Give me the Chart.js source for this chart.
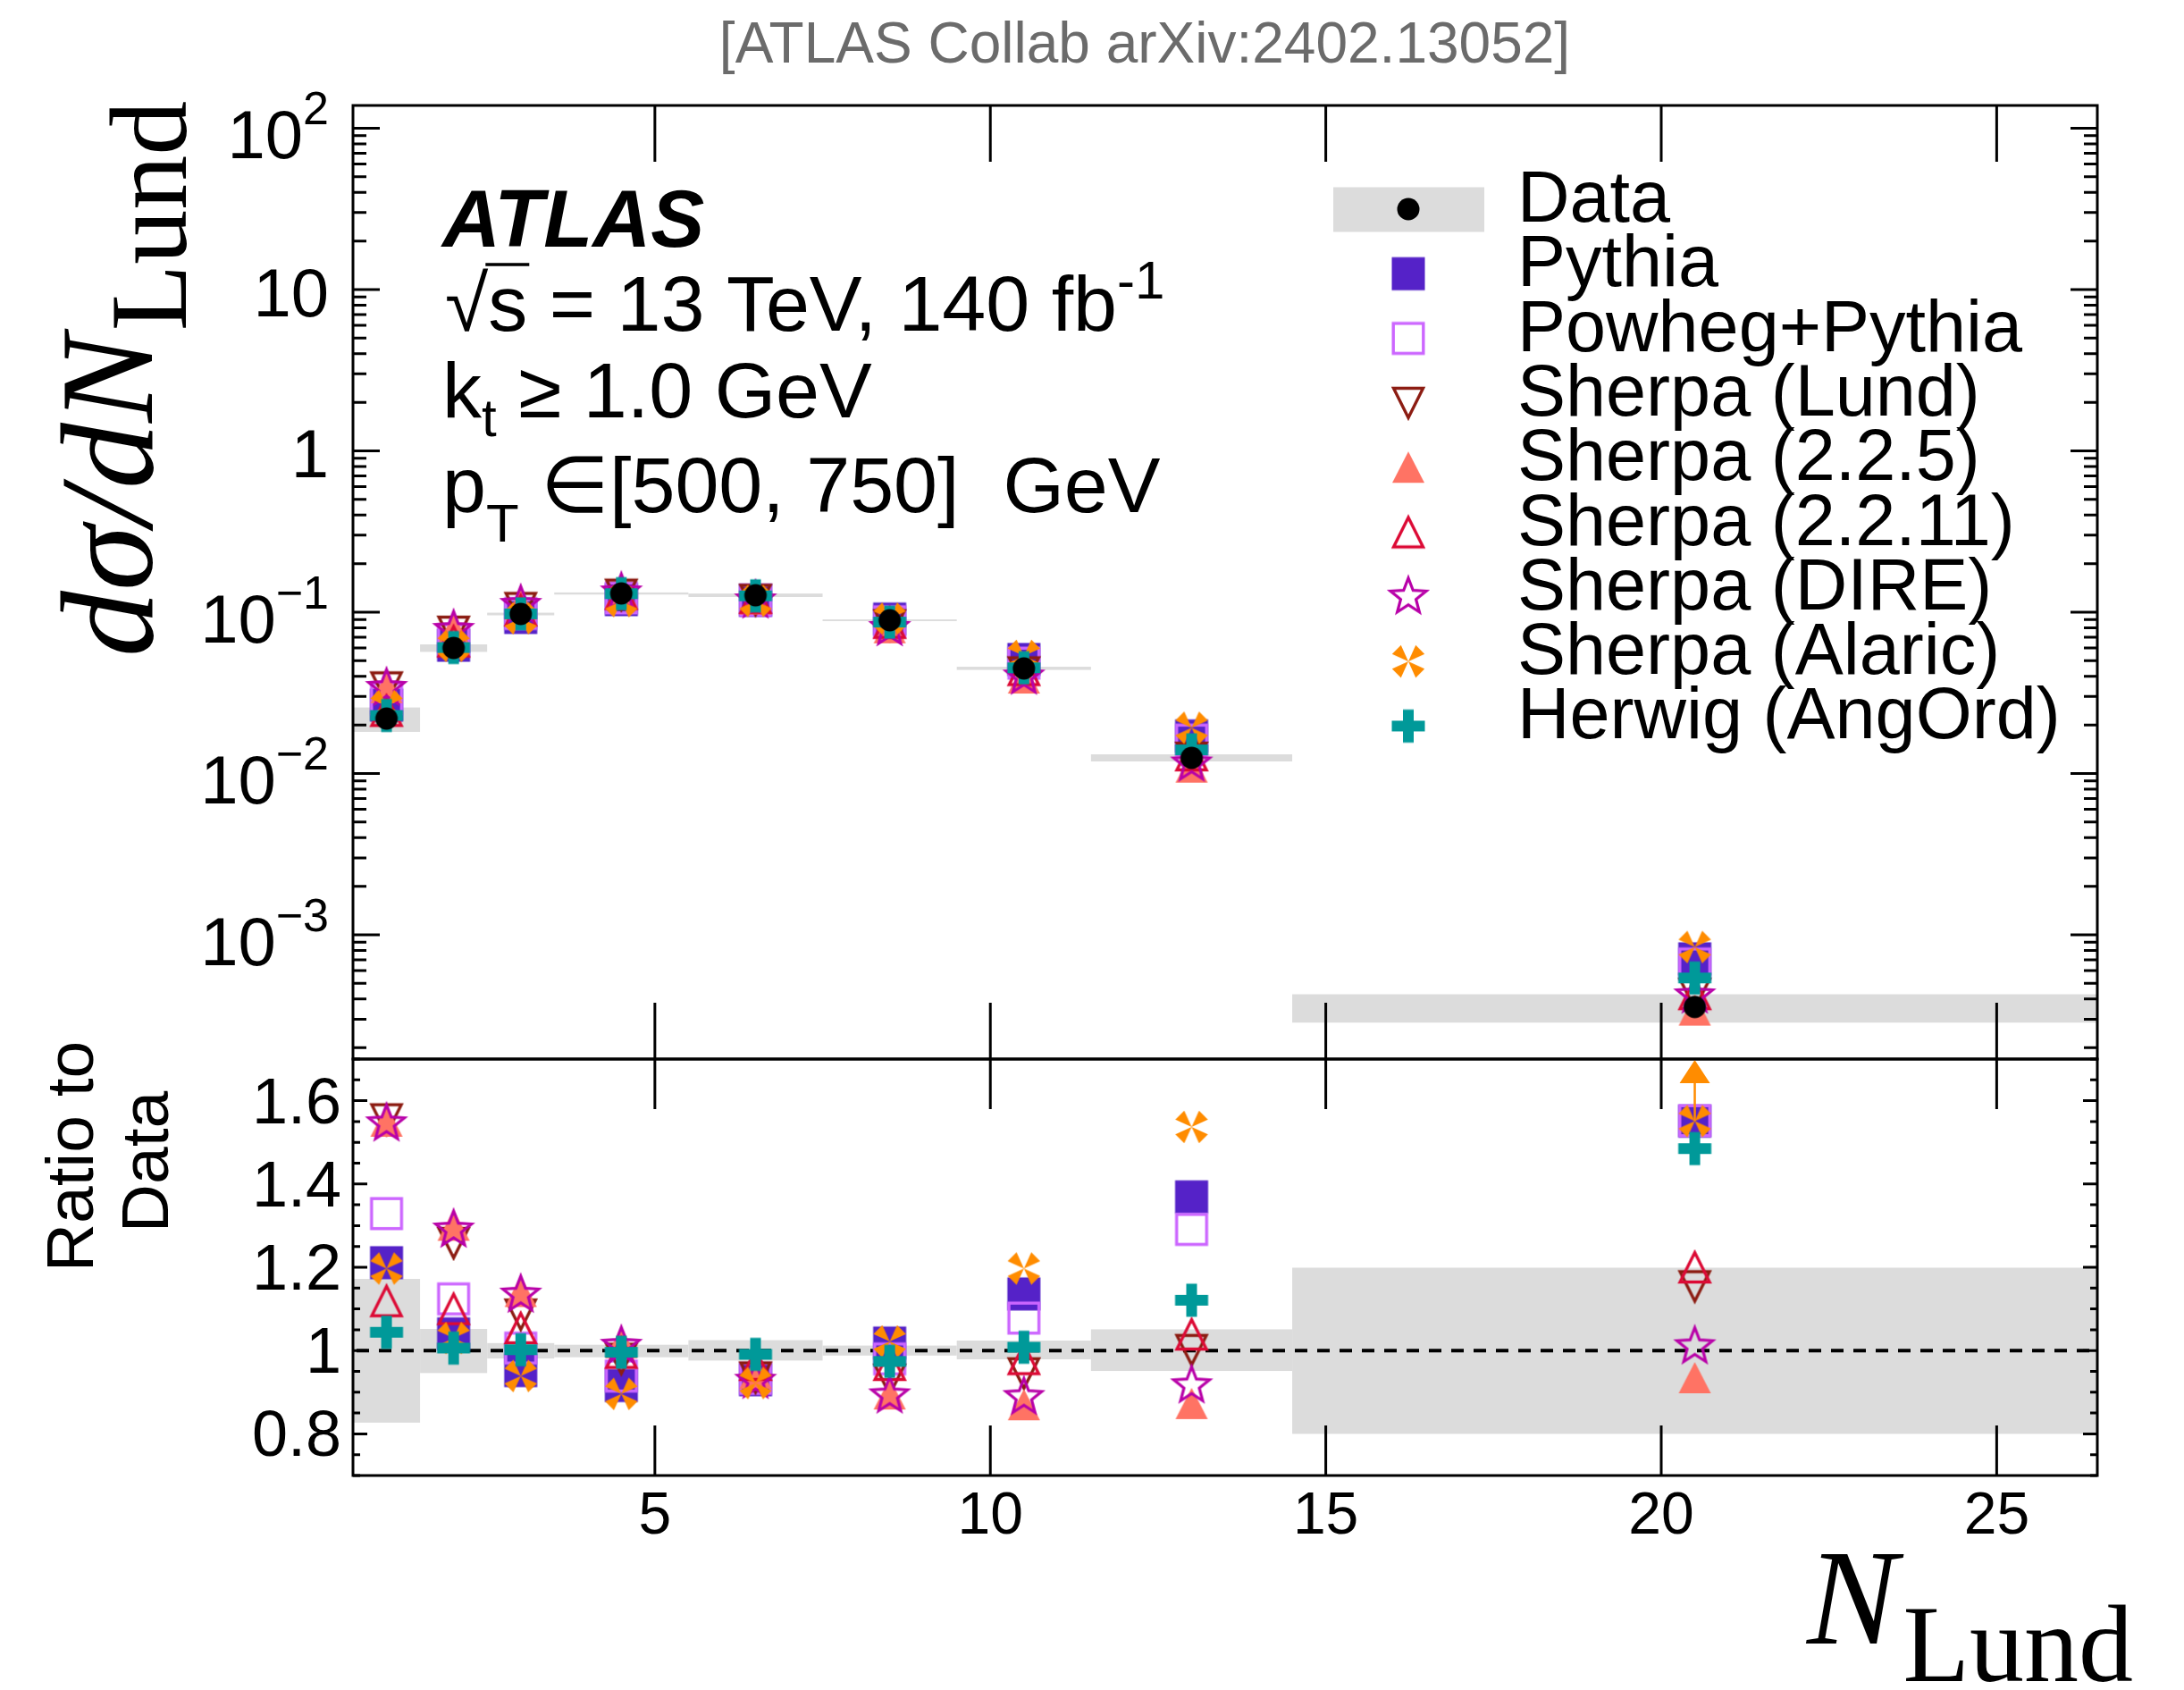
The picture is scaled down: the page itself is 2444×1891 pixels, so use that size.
<!DOCTYPE html>
<html>
<head>
<meta charset="utf-8">
<title>dsigma/dN_Lund</title>
<script src="https://cdn.jsdelivr.net/npm/chart.js@4.4.1/dist/chart.umd.min.js"></script>
<style>
  html, body { margin: 0; padding: 0; background: #fff; }
  #page { position: relative; width: 2444px; height: 1891px; overflow: hidden; background: #fff; }
  #page canvas { position: absolute; left: 0; }
</style>
</head>
<body>
<div id="page">
  <canvas id="mainPanel" width="2444" height="1192" style="top:0px"></canvas>
  <canvas id="ratioPanel" width="2444" height="791" style="top:1100px"></canvas>
</div>
<script>
// bins in N_Lund
const binEdges = [0.5, 1.5, 2.5, 3.5, 5.5, 7.5, 9.5, 11.5, 14.5, 26.5];
const nLund = [1, 2, 3, 4.5, 6.5, 8.5, 10.5, 13, 20.5];

// data (upper panel) and relative size of the grey uncertainty band
const dataXs = [0.0219, 0.0600, 0.0975, 0.1307, 0.1273, 0.0891, 0.0448, 0.0125, 0.000357];
const dataRelUp = [1.172, 1.052, 1.018, 1.014, 1.025, 1.012, 1.024, 1.051, 1.199];
const dataRelDown = [0.827, 0.946, 0.981, 0.984, 0.976, 0.988, 0.979, 0.951, 0.80];

// predictions, upper panel
const pythia = [0.0265, 0.0624, 0.0928, 0.1197, 0.1184, 0.0907, 0.0509, 0.0171, 0.00071];
const powheg = [0.0291, 0.0674, 0.0981, 0.1227, 0.1188, 0.0873, 0.0483, 0.0161, 0.00066];
const sherpaLund = [0.0341, 0.0755, 0.1059, 0.1281, 0.1190, 0.0829, 0.0423, 0.0125, 0.00043];
const sherpa225 = [0.0339, 0.0780, 0.1112, 0.1331, 0.1203, 0.0797, 0.0389, 0.0109, 0.00034];
const sherpa2211 = [0.0245, 0.0660, 0.1028, 0.1300, 0.1230, 0.0861, 0.0439, 0.0130, 0.00043];
const sherpaDire = [0.0338, 0.0774, 0.1106, 0.1321, 0.1180, 0.0795, 0.0398, 0.0115, 0.00042];
const sherpaAlaric = [0.0262, 0.0618, 0.0916, 0.1171, 0.1174, 0.0911, 0.0536, 0.0192, 0.00084];
const herwig = [0.0229, 0.0604, 0.0977, 0.1302, 0.1262, 0.0868, 0.0452, 0.0140, 0.00054];

// predictions, ratio panel
const pythiaRatio = [1.211, 1.04, 0.952, 0.916, 0.93, 1.018, 1.136, 1.369, 1.551];
const powhegRatio = [1.329, 1.124, 1.006, 0.939, 0.933, 0.98, 1.078, 1.291, 1.552];
const sherpaLundRatio = [1.555, 1.258, 1.086, 0.98, 0.935, 0.93, 0.945, 1.001, 1.154];
const sherpa225Ratio = [1.55, 1.30, 1.141, 1.018, 0.945, 0.895, 0.869, 0.872, 0.934];
const sherpa2211Ratio = [1.119, 1.10, 1.054, 0.995, 0.966, 0.966, 0.98, 1.039, 1.20];
const sherpaDireRatio = [1.545, 1.29, 1.134, 1.011, 0.927, 0.892, 0.888, 0.916, 1.01];
const sherpaAlaricRatio = [1.197, 1.03, 0.939, 0.896, 0.922, 1.022, 1.197, 1.537, 1.551];
const herwigRatio = [1.044, 1.006, 1.002, 0.996, 0.991, 0.974, 1.008, 1.121, 1.485];
// Alaric error bar running out of the ratio frame (drawn as an arrow)
const sherpaAlaricRatioUp = [null, null, null, null, null, null, null, null, 1.8];

// axes
const xTickVals = [5, 10, 15, 20, 25];
const mainTickVals = [1e-3, 1e-2, 1e-1, 1, 10, 100];
const mainTickText = [['10', '\u22123'], ['10', '\u22122'], ['10', '\u22121'], ['1', ''], ['10', ''], ['10', '2']];
const ratioTickVals = [0.8, 1, 1.2, 1.4, 1.6];
const ratioTickText = ['0.8', '1', '1.2', '1.4', '1.6'];

const legendText = ['Data', 'Pythia', 'Powheg+Pythia', 'Sherpa (Lund)', 'Sherpa (2.2.5)',
  'Sherpa (2.2.11)', 'Sherpa (DIRE)', 'Sherpa (Alaric)', 'Herwig (AngOrd)'];

const SANS = '"Liberation Sans", Arimo, Arial, Helvetica, sans-serif';
const SERIF = '"Liberation Serif", "Times New Roman", serif';
const BAND = '#dcdcdc';
const RATIO_TOP = 1100;

Chart.defaults.font.family = SANS;

// ROOT-like markers, drawn once on small canvases and used as point styles
function makeMarker(kind, color) {
  const S = 52, c = document.createElement('canvas');
  c.width = S; c.height = S;
  const g = c.getContext('2d'), m = S / 2;
  g.fillStyle = color; g.strokeStyle = color; g.lineWidth = 3.4; g.lineJoin = 'miter';
  const poly = (pts) => {
    g.beginPath();
    pts.forEach(([px, py], i) => i ? g.lineTo(m + px, m + py) : g.moveTo(m + px, m + py));
    g.closePath();
  };
  if (kind === 'dot') { g.beginPath(); g.arc(m, m, 12.5, 0, 2 * Math.PI); g.fill(); }
  else if (kind === 'square') { g.fillRect(m - 18.5, m - 18.5, 37, 37); }
  else if (kind === 'openSquare') { g.strokeRect(m - 16.8, m - 16.8, 33.6, 33.6); }
  else if (kind === 'triangleUp') { poly([[-18, 17], [18, 17], [0, -18]]); g.fill(); }
  else if (kind === 'openTriangleUp') { poly([[-16.5, 16.5], [16.5, 16.5], [0, -16.5]]); g.stroke(); }
  else if (kind === 'openTriangleDown') { poly([[-16.5, -16.5], [16.5, -16.5], [0, 16.5]]); g.stroke(); }
  else if (kind === 'openStar') {
    const pts = [];
    for (let j = 0; j < 10; j++) {
      const r = j % 2 ? 9 : 21, t = -Math.PI / 2 + j * Math.PI / 5;
      pts.push([r * Math.cos(t), r * Math.sin(t)]);
    }
    poly(pts); g.lineWidth = 3.2; g.stroke();
  }
  else if (kind === 'pinwheel') {
    for (let q = 0; q < 4; q++) {
      const t = Math.PI / 4 + q * Math.PI / 2, d = 0.36, R = 20;
      poly([[0, 0], [R * Math.cos(t - d), R * Math.sin(t - d)], [R * Math.cos(t + d), R * Math.sin(t + d)]]);
      g.fill();
    }
  }
  else if (kind === 'cross') { g.fillRect(m - 6, m - 18.5, 12, 37); g.fillRect(m - 18.5, m - 6, 37, 12); }
  return c;
}

const dataDot = makeMarker('dot', '#000000');
const mcSeries = [
  { name: legendText[1], main: pythia, ratio: pythiaRatio, img: makeMarker('square', '#5522c8') },
  { name: legendText[2], main: powheg, ratio: powhegRatio, img: makeMarker('openSquare', '#cc66ff') },
  { name: legendText[3], main: sherpaLund, ratio: sherpaLundRatio, img: makeMarker('openTriangleDown', '#8c1c12') },
  { name: legendText[4], main: sherpa225, ratio: sherpa225Ratio, img: makeMarker('triangleUp', '#ff7364') },
  { name: legendText[5], main: sherpa2211, ratio: sherpa2211Ratio, img: makeMarker('openTriangleUp', '#dc0a35') },
  { name: legendText[6], main: sherpaDire, ratio: sherpaDireRatio, img: makeMarker('openStar', '#b800a8') },
  { name: legendText[7], main: sherpaAlaric, ratio: sherpaAlaricRatio, img: makeMarker('pinwheel', '#ff8c00') },
  { name: legendText[8], main: herwig, ratio: herwigRatio, img: makeMarker('cross', '#009999') }
];

// text made of several pieces (sub/superscripts)
function rich(ctx, x, y, parts, align) {
  let w = 0;
  for (const p of parts) { ctx.font = p.f; p.w = ctx.measureText(p.t).width + (p.gap || 0); w += p.w; }
  let cx = align === 'right' ? x - w : align === 'center' ? x - w / 2 : x;
  ctx.textAlign = 'left';
  for (const p of parts) {
    ctx.font = p.f;
    ctx.fillText(p.t, cx + (p.gap || 0), y + (p.dy || 0));
    p.x = cx + (p.gap || 0);
    cx += p.w;
  }
  return parts;
}

// frame with inward ticks on all four sides
function drawFrame(chart, cfg) {
  const { ctx, chartArea: a } = chart;
  const xs = chart.scales.x, ys = chart.scales.y;
  ctx.save();
  ctx.strokeStyle = '#000';
  ctx.lineWidth = 3;
  ctx.beginPath();
  xTickVals.forEach(v => {
    const px = xs.getPixelForValue(v);
    ctx.moveTo(px, a.bottom); ctx.lineTo(px, a.bottom - cfg.xLen);
    ctx.moveTo(px, a.top); ctx.lineTo(px, a.top + cfg.xLen);
  });
  const yTick = (v, len) => {
    const py = ys.getPixelForValue(v);
    ctx.moveTo(a.left, py); ctx.lineTo(a.left + len, py);
    ctx.moveTo(a.right, py); ctx.lineTo(a.right - len, py);
  };
  cfg.yMajor.forEach(v => yTick(v, cfg.yLen));
  cfg.yMinor.forEach(v => yTick(v, cfg.yMinorLen));
  ctx.stroke();
  ctx.strokeRect(a.left, a.top, a.right - a.left, a.bottom - a.top);
  ctx.restore();
}

function logMinors(min, max) {
  const out = [];
  for (let e = -5; e <= 3; e++) {
    for (let k = 2; k <= 9; k++) {
      const v = k * Math.pow(10, e);
      if (v > min && v < max) out.push(v);
    }
  }
  return out;
}

function linMinors(min, max, step, majors) {
  const out = [];
  for (let v = Math.ceil(min / step - 1e-9) * step; v <= max + 1e-9; v += step) {
    const r = Math.round(v * 1000) / 1000;
    if (!majors.some(mj => Math.abs(mj - r) < 1e-6)) out.push(r);
  }
  return out;
}

const mainPanelDeco = {
  id: 'mainPanelDeco',
  beforeDatasetsDraw(chart) {
    const { ctx, chartArea: a, scales: { x, y } } = chart;
    ctx.save();
    ctx.beginPath(); ctx.rect(a.left, a.top, a.right - a.left, a.bottom - a.top); ctx.clip();
    ctx.fillStyle = BAND;
    nLund.forEach((_, i) => {
      const x0 = x.getPixelForValue(binEdges[i]), x1 = x.getPixelForValue(binEdges[i + 1]);
      const y0 = y.getPixelForValue(dataXs[i] * dataRelUp[i]);
      const y1 = y.getPixelForValue(dataXs[i] * dataRelDown[i]);
      ctx.fillRect(x0, y0, x1 - x0, y1 - y0);
    });
    ctx.restore();
  },
  afterDraw(chart) {
    const { ctx, scales: { y } } = chart;
    drawFrame(chart, { xLen: 63, yLen: 30, yMinorLen: 15,
      yMajor: mainTickVals, yMinor: logMinors(y.min, y.max) });

    ctx.save();
    ctx.fillStyle = '#000';
    ctx.textBaseline = 'alphabetic';

    // y tick labels
    mainTickVals.forEach((v, i) => {
      const py = y.getPixelForValue(v);
      const [base, exp] = mainTickText[i];
      if (exp) {
        rich(ctx, 368, py + 34, [
          { t: base, f: '76px ' + SANS },
          { t: exp, f: '52px ' + SANS, dy: -38 }
        ], 'right');
      } else {
        rich(ctx, 368, py + 30, [{ t: base, f: '76px ' + SANS }], 'right');
      }
    });

    // y title
    ctx.save();
    ctx.translate(170, 735);
    ctx.rotate(-Math.PI / 2);
    rich(ctx, 0, 0, [
      { t: 'd\u03C3/dN', f: 'italic 148px ' + SERIF },
      { t: 'Lund', f: '122px ' + SERIF, dy: 38, gap: 4 }
    ], 'left');
    ctx.restore();

    // header
    ctx.fillStyle = '#6b6b6b';
    ctx.font = '64px ' + SANS;
    ctx.textAlign = 'center';
    ctx.fillText('[ATLAS Collab arXiv:2402.13052]', 1281, 70);

    // ATLAS label block
    ctx.fillStyle = '#000';
    ctx.textAlign = 'left';
    ctx.font = 'italic bold 90px ' + SANS;
    ctx.fillText('ATLAS', 495, 276);

    const F = '88px ' + SANS, FS = '60px ' + SANS;
    const sq = rich(ctx, 498, 370, [
      { t: '\u221A', f: F }, { t: 's', f: F },
      { t: ' = 13 TeV, 140 fb', f: F }, { t: '-1', f: FS, dy: -36 }
    ], 'left');
    ctx.lineWidth = 3.5;
    ctx.beginPath();
    ctx.moveTo(sq[1].x - 3, 370 - 74);
    ctx.lineTo(sq[1].x + sq[1].w + 2, 370 - 74);
    ctx.stroke();
    rich(ctx, 495, 467, [
      { t: 'k', f: F }, { t: 't', f: FS, dy: 21 }, { t: ' \u2265 1.0 GeV', f: F }
    ], 'left');
    rich(ctx, 495, 573, [
      { t: 'p', f: F }, { t: 'T', f: FS, dy: 33 }, { t: ' \u2208[500, 750]  GeV', f: F }
    ], 'left');

    // legend
    const rowY = (k) => 234 + 72.3 * k;
    ctx.fillStyle = BAND;
    ctx.fillRect(1492, 209.5, 169, 50);
    const imgs = [dataDot].concat(mcSeries.map(s => s.img));
    imgs.forEach((im, k) => ctx.drawImage(im, 1576 - im.width / 2, rowY(k) - im.height / 2));
    ctx.fillStyle = '#000';
    ctx.font = '81px ' + SANS;
    legendText.forEach((t, k) => ctx.fillText(t, 1698, rowY(k) + 14));
    ctx.restore();
  }
};

const ratioPanelDeco = {
  id: 'ratioPanelDeco',
  beforeDatasetsDraw(chart) {
    const { ctx, chartArea: a, scales: { x, y } } = chart;
    ctx.save();
    ctx.beginPath(); ctx.rect(a.left, a.top, a.right - a.left, a.bottom - a.top); ctx.clip();
    ctx.fillStyle = BAND;
    nLund.forEach((_, i) => {
      const x0 = x.getPixelForValue(binEdges[i]), x1 = x.getPixelForValue(binEdges[i + 1]);
      const y0 = y.getPixelForValue(dataRelUp[i]), y1 = y.getPixelForValue(dataRelDown[i]);
      ctx.fillRect(x0, y0, x1 - x0, y1 - y0);
    });
    const one = y.getPixelForValue(1);
    ctx.strokeStyle = '#000';
    ctx.lineWidth = 4;
    ctx.setLineDash([14, 11]);
    ctx.beginPath(); ctx.moveTo(a.left + 4, one); ctx.lineTo(a.right, one); ctx.stroke();
    ctx.restore();
  },
  afterDatasetsDraw(chart) {
    const { ctx, scales: { x, y } } = chart;
    ctx.save();
    ctx.strokeStyle = '#ff8c00'; ctx.fillStyle = '#ff8c00'; ctx.lineWidth = 2.5;
    sherpaAlaricRatioUp.forEach((up, i) => {
      if (up == null) return;
      const px = x.getPixelForValue(nLund[i]);
      const y0 = y.getPixelForValue(sherpaAlaricRatio[i]);
      const clipped = up > y.max;
      const y1 = y.getPixelForValue(clipped ? y.max : up);
      ctx.beginPath(); ctx.moveTo(px, y0); ctx.lineTo(px, clipped ? y1 + 24 : y1); ctx.stroke();
      if (clipped) {
        ctx.beginPath();
        ctx.moveTo(px, y1 + 1); ctx.lineTo(px - 17, y1 + 27); ctx.lineTo(px + 17, y1 + 27);
        ctx.closePath(); ctx.fill();
      }
    });
    ctx.restore();
  },
  afterDraw(chart) {
    const { ctx, scales: { x, y } } = chart;
    drawFrame(chart, { xLen: 56, yLen: 16, yMinorLen: 8,
      yMajor: ratioTickVals, yMinor: linMinors(y.min, y.max, 0.05, ratioTickVals) });

    ctx.save();
    ctx.fillStyle = '#000';
    ctx.textBaseline = 'alphabetic';
    ctx.font = '72px ' + SANS;
    ctx.textAlign = 'right';
    ratioTickVals.forEach((v, i) => ctx.fillText(ratioTickText[i], 382, y.getPixelForValue(v) + 25));

    // from here on: page coordinates
    ctx.translate(0, -RATIO_TOP);
    ctx.font = '66px ' + SANS;
    ctx.textAlign = 'center';
    xTickVals.forEach(v => ctx.fillText(String(v), x.getPixelForValue(v), 1716));

    rich(ctx, 2022, 1839, [
      { t: 'N', f: 'italic 152px ' + SERIF },
      { t: 'Lund', f: '122px ' + SERIF, dy: 42, gap: 6 }
    ], 'left');

    ctx.font = '75px ' + SANS;
    ctx.textAlign = 'center';
    ctx.save(); ctx.translate(104, 1294); ctx.rotate(-Math.PI / 2); ctx.fillText('Ratio to', 0, 0); ctx.restore();
    ctx.save(); ctx.translate(188, 1300); ctx.rotate(-Math.PI / 2); ctx.fillText('Data', 0, 0); ctx.restore();
    ctx.restore();
  }
};

const baseOptions = (pad, yScale) => ({
  responsive: false,
  animation: false,
  devicePixelRatio: 1,
  layout: { autoPadding: false, padding: pad },
  events: [],
  plugins: { legend: { display: false }, tooltip: { enabled: false }, title: { display: false } },
  scales: {
    x: { type: 'linear', min: 0.5, max: 26.5, display: false },
    y: yScale
  }
});

// upper panel
const mainSets = mcSeries.map((s, k) => ({
  label: s.name,
  data: nLund.map((xv, i) => ({ x: xv, y: s.main[i] })),
  pointStyle: s.img,
  pointRadius: 18,
  showLine: false,
  order: mcSeries.length - k + 1
}));
mainSets.push({
  label: legendText[0],
  data: nLund.map((xv, i) => ({ x: xv, y: dataXs[i] })),
  pointStyle: dataDot,
  pointRadius: 13,
  showLine: false,
  order: 0
});

new Chart(document.getElementById('mainPanel'), {
  type: 'scatter',
  data: { datasets: mainSets },
  options: baseOptions({ left: 395, right: 97, top: 118, bottom: 7 },
    { type: 'logarithmic', min: 1.698e-4, max: 138.4, display: false }),
  plugins: [mainPanelDeco]
});

// ratio panel
const ratioSets = mcSeries.map((s, k) => ({
  label: s.name,
  data: nLund.map((xv, i) => ({ x: xv, y: s.ratio[i] })),
  pointStyle: s.img,
  pointRadius: 18,
  showLine: false,
  order: mcSeries.length - k + 1
}));

new Chart(document.getElementById('ratioPanel'), {
  type: 'scatter',
  data: { datasets: ratioSets },
  options: baseOptions({ left: 395, right: 97, top: 1185 - RATIO_TOP, bottom: 1891 - 1651 },
    { type: 'linear', min: 0.7, max: 1.7, display: false }),
  plugins: [ratioPanelDeco]
});
</script>
</body>
</html>
